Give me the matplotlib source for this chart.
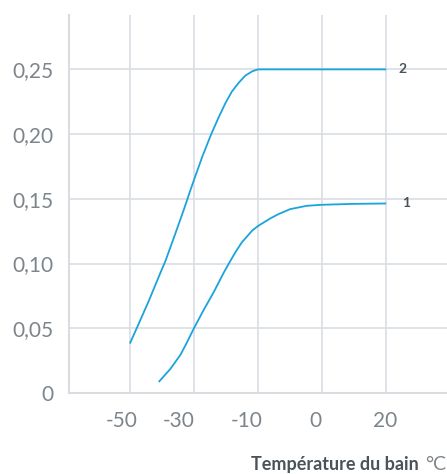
import matplotlib
matplotlib.use("Agg")
import matplotlib.pyplot as plt
from matplotlib.transforms import ScaledTranslation

# axe x : positions régulières, étiquettes non linéaires
x_labels = ["-50", "-30", "-10", "0", "20"]
x_pos = [0, 1, 2, 3, 4]

# courbe 2 (x en position de graduation)
c2_x = [0.0, 0.14, 0.30, 0.45, 0.56, 0.71, 0.84, 0.945, 1.0, 1.13, 1.27, 1.39,
        1.49, 1.59, 1.70, 1.80, 1.91, 2.0, 4.0]
c2_y = [0.0382, 0.0537, 0.0717, 0.0897, 0.1026, 0.1232, 0.1413, 0.1567, 0.1645,
        0.1825, 0.2, 0.2134, 0.2238, 0.2327, 0.2397, 0.2451, 0.2485, 0.25, 0.25]

# courbe 1
c1_x = [0.45, 0.63, 0.79, 0.89, 1.0, 1.15, 1.31, 1.46, 1.545, 1.65, 1.75, 1.91,
        2.0, 2.19, 2.32, 2.50, 2.76, 3.0, 3.49, 4.0]
c1_y = [0.0085, 0.0185, 0.0295, 0.039, 0.05, 0.064, 0.078, 0.0925, 0.1, 0.109,
        0.1165, 0.1255, 0.129, 0.1348, 0.1382, 0.142, 0.1446, 0.1454, 0.1461, 0.1464]

y_ticks = [0, 0.05, 0.10, 0.15, 0.20, 0.25]
y_labels = ["0", "0,05", "0,10", "0,15", "0,20", "0,25"]

blue = "#1aa3dd"
grid_col = "#d9dde1"
txt_col = "#7c858b"
dark = "#4a5358"

plt.rcParams['font.family'] = ['Lato', 'DejaVu Sans']

fig = plt.figure(figsize=(4.47, 4.74), dpi=100)
ax = fig.add_axes([69 / 447, 81 / 474, 1 - 69 / 447, 378 / 474])

ax.plot(c2_x, c2_y, color=blue, lw=1.3, solid_capstyle='butt', solid_joinstyle='round')
ax.plot(c1_x, c1_y, color=blue, lw=1.3, solid_capstyle='butt', solid_joinstyle='round')

ax.set_xlim(-0.95, 4.95)
ax.set_ylim(0, 0.292)

ax.set_xticks(x_pos)
ax.set_xticklabels(x_labels)
ax.set_yticks(y_ticks)
ax.set_yticklabels(y_labels)

ax.grid(True, color=grid_col, lw=1.2)
ax.set_axisbelow(True)
for s in ["top", "right"]:
    ax.spines[s].set_visible(False)
for s in ["left", "bottom"]:
    ax.spines[s].set_color(grid_col)
    ax.spines[s].set_linewidth(1.5)

ax.tick_params(axis='both', length=0, labelsize=15, labelcolor=txt_col)
ax.tick_params(axis='y', pad=11)
ax.tick_params(axis='x', pad=13)

# décalage des étiquettes x (vers la gauche, comme l'original)
x_shift = [-8, -15, -11, -7, -1]
for lab, dx in zip(ax.get_xticklabels(), x_shift):
    lab.set_transform(lab.get_transform() + ScaledTranslation(dx / 100, 0, fig.dpi_scale_trans))

# numéros des courbes
ax.text(4.2, 0.25, "2", color=dark, fontsize=10, fontweight='bold', va='center')
ax.text(4.25, c1_y[-1], "1", color=dark, fontsize=10, fontweight='bold', va='center')

# titre de l'axe x
fig.text(419 / 447, 4 / 474, "Température du bain", color=dark, fontsize=13,
         fontweight='bold', ha='right', va='baseline')
fig.text(425 / 447, 4 / 474, "°C", color=txt_col, fontsize=14,
         ha='left', va='baseline')

fig.savefig("out.png", dpi=100)
